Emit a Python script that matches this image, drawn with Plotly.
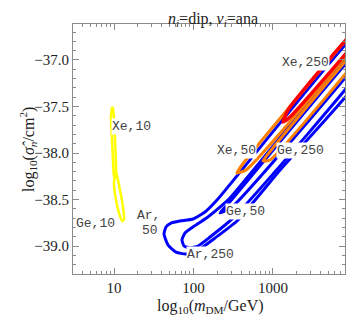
import plotly.graph_objects as go

# ---------------- data: log10(m/GeV), log10(sigma_n/cm^2) ----------------
xe10_logm = [0.975, 0.962, 0.975, 0.987, 1.000, 1.025, 1.025, 1.013, 1.000, 0.987, 0.975]
xe10_logs = [-37.516, -37.624, -37.860, -38.075, -38.247, -38.269, -38.129, -37.860, -37.624, -37.516, -37.516]

ge10_logm = [1.013, 1.000, 1.025, 1.063, 1.101, 1.126, 1.113, 1.075, 1.038, 1.013]
ge10_logs = [-38.204, -38.344, -38.505, -38.645, -38.731, -38.720, -38.581, -38.398, -38.247, -38.204]

ar50_logm = [1.629, 1.654, 1.717, 1.830, 1.994, 2.145, 2.296, 4.300, 4.300, 3.088, 2.547, 2.270, 2.082, 1.906, 1.780, 1.679, 1.629]
ar50_logs = [-38.871, -38.796, -38.753, -38.731, -38.710, -38.634, -38.505, -36.500, -36.970, -38.183, -38.731, -38.914, -39.032, -39.086, -39.065, -38.989, -38.871]

ar250_logm = [1.855, 1.893, 1.994, 2.145, 2.333, 2.459, 4.300, 4.300, 2.497, 2.208, 2.057, 1.956, 1.881, 1.855]
ar250_logs = [-38.935, -38.860, -38.796, -38.710, -38.581, -38.484, -36.643, -36.875, -38.700, -38.903, -39.000, -39.022, -39.000, -38.935]

ge50_logm = [2.333, 2.434, 4.300, 4.300, 2.484, 2.333]
ge50_logs = [-38.645, -38.548, -36.682, -36.760, -38.580, -38.645]

ge250_logm = [2.874, 2.937, 4.300, 4.300, 2.962, 2.874]
ge250_logs = [-38.086, -38.011, -36.648, -36.720, -38.075, -38.086]

xe50_logm = [2.547, 2.610, 4.300, 4.300, 2.660, 2.547]
xe50_logs = [-38.215, -38.129, -36.440, -36.530, -38.183, -38.215]

xe250_logm = [3.126, 3.189, 4.300, 4.300, 3.201, 3.126]
xe250_logs = [-37.667, -37.538, -36.430, -36.520, -37.624, -37.667]

x_ticks = [10, 100, 1000]
x_ticktext = ["10", "100", "1000"]
x_minor = [k * 10 ** n for n in range(0, 4) for k in range(2, 10)]

# labels: (text, log10 m, log10 sigma)
labels = [
    ("Xe,250", 3.415, -37.032),
    ("Xe,50", 2.547, -37.978),
    ("Ge,250", 3.352, -37.978),
    ("Ge,50", 2.648, -38.634),
    ("Ar,250", 2.220, -39.086),
    ("Ar,", 1.428, -38.667),
    ("50", 1.453, -38.828),
    ("Ge,10", 0.761, -38.753),
    ("Xe,10", 1.214, -37.720),
]

BLUE = "#0000ff"
ORANGE = "#ff8000"
RED = "#ff0000"
YELLOW = "#ffff00"

curves = [
    (ar50_logm, ar50_logs, BLUE, 3),
    (ar250_logm, ar250_logs, BLUE, 3),
    (ge50_logm, ge50_logs, BLUE, 3),
    (ge250_logm, ge250_logs, ORANGE, 3),
    (xe50_logm, xe50_logs, ORANGE, 3),
    (xe250_logm, xe250_logs, RED, 3.5),
    (ge10_logm, ge10_logs, YELLOW, 2.5),
    (xe10_logm, xe10_logs, YELLOW, 2.5),
]

fig = go.Figure()
for lm, ls, col, w in curves:
    fig.add_trace(go.Scatter(
        x=[10 ** v for v in lm], y=ls, mode="lines",
        line=dict(color=col, width=w, shape="spline", smoothing=0.5),
        hoverinfo="skip", showlegend=False))

for txt, lx, ly in labels:
    fig.add_annotation(x=lx, y=ly, xref="x", yref="y", text=txt, showarrow=False,
                       font=dict(family="Liberation Mono", size=13, color="#444444"),
                       bgcolor="white", borderpad=0)

AX = "#8a8a8a"
fig.update_xaxes(type="log", range=[0.484, 3.906], tickvals=x_ticks, ticktext=x_ticktext,
                 ticks="inside", ticklen=6, tickcolor=AX, tickwidth=1,
                 showline=True, linecolor=AX, linewidth=1, mirror="allticks",
                 showgrid=False, zeroline=False,
                 tickfont=dict(family="Liberation Serif", size=15, color="#222222"),
                 minor=dict(ticks="inside", ticklen=3, tickcolor=AX, tickvals=x_minor, showgrid=False))
fig.update_yaxes(range=[-39.301, -36.613], dtick=0.5, tick0=-37.0, tickformat=".1f",
                 ticks="inside", ticklen=6, tickcolor=AX, tickwidth=1,
                 showline=True, linecolor=AX, linewidth=1, mirror="allticks",
                 showgrid=False, zeroline=False,
                 tickfont=dict(family="Liberation Serif", size=15, color="#222222"),
                 minor=dict(ticks="inside", ticklen=3, tickcolor=AX, dtick=0.1, showgrid=False))

fig.add_annotation(xref="paper", yref="paper", x=0.515, y=1.064, showarrow=False,
                   text="<i>n</i><sub><i>i</i></sub>=dip, <i>ν</i><sub><i>i</i></sub>=ana",
                   font=dict(family="Liberation Serif", size=16, color="#222222"))
fig.add_annotation(xref="paper", yref="paper", x=0.504, y=-0.175, showarrow=False,
                   text="log<sub>10</sub>(<i>m</i><sub>DM</sub>/GeV)",
                   font=dict(family="Liberation Serif", size=16, color="#222222"))
fig.add_annotation(xref="paper", yref="paper", x=-0.213, y=0.496, showarrow=False, textangle=-90,
                   text="log<sub>10</sub>(<i>σ̂</i><sub><i>n</i></sub>/cm<sup>2</sup>)",
                   font=dict(family="Liberation Serif", size=16, color="#222222"))

fig.update_layout(width=346, height=318, margin=dict(l=73, r=1, t=24, b=44),
                  paper_bgcolor="white", plot_bgcolor="white")
fig.write_html("out.html", config={"displayModeBar": False},
               post_script="document.body.style.margin='0';document.body.style.overflow='hidden';")
